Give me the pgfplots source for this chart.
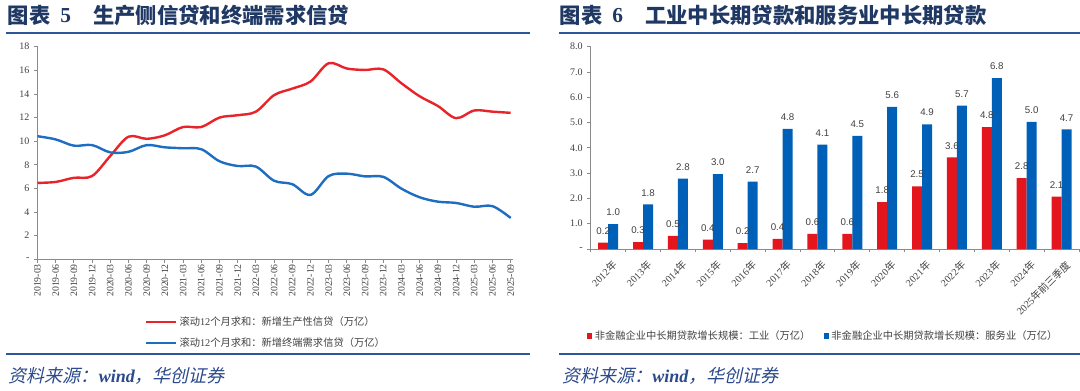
\documentclass[border=0pt]{standalone}
\usepackage{fontspec}
\setmainfont{Liberation Serif}
\newfontfamily\cjk{Noto Sans CJK SC}
\newfontfamily\cjkit{Noto Sans CJK SC}[FakeSlant=0.22]
\newfontfamily\arial{Liberation Sans}
\usepackage{pgfplots}
\pgfplotsset{compat=1.18}

\definecolor{tnavy}{HTML}{1F3864}
\definecolor{srcc}{HTML}{2B4A8B}
\definecolor{rulec}{HTML}{2E5597}
\definecolor{lred}{HTML}{E8232A}
\definecolor{lblue}{HTML}{1D6DC1}
\definecolor{bred}{HTML}{E3161E}
\definecolor{bblue}{HTML}{0060B7}
\definecolor{axc}{HTML}{8A8A8A}
\definecolor{txt}{HTML}{404040}
\newcommand\nian{{\cjk 年}}

\begin{document}
\begin{tikzpicture}
\useasboundingbox (0,0) rectangle (810pt,-293.25pt);

% ---------------- left chart ----------------
\begin{axis}[
  at={(28.125pt,-194.475pt)}, anchor=south west,
  scale only axis, width=356.25pt, height=159.45pt,
  xmin=0, xmax=26.1, ymin=0, ymax=18,
  axis x line*=bottom, axis y line*=left,
  axis line style={-, axc, line width=0.6pt},
  tick style={axc, line width=0.6pt},
  tick align=outside, major tick length=2.5pt,
  xtick={0,...,26},
  xticklabels={2019-03,2019-06,2019-09,2019-12,2020-03,2020-06,2020-09,2020-12,2021-03,2021-06,2021-09,2021-12,2022-03,2022-06,2022-09,2022-12,2023-03,2023-06,2023-09,2023-12,2024-03,2024-06,2024-09,2024-12,2025-03,2025-06,2025-09},
  ytick={0,2,...,18},
  yticklabels={-,2,4,6,8,10,12,14,16,18},
  x tick label style={rotate=90, anchor=east, font=\fontsize{7.3}{8}\selectfont, text=txt, inner sep=1pt},
  y tick label style={font=\fontsize{7.5}{8}\selectfont, text=txt},
  legend style={at={(axis description cs:0.226,-0.255)}, anchor=north west, draw=none, fill=none,
    font=\fontsize{7.7}{9}\selectfont, text=txt, inner sep=0pt, row sep=4pt},
  legend cell align=left,
  legend image code/.code={\draw[#1] (0pt,0pt) -- (22pt,0pt);},
]
\addplot[lred, line width=1.8pt, smooth, tension=0.55] coordinates {
(0,6.47)(1,6.55)(2,6.90)(3,7.05)(4,8.75)(5,10.38)(6,10.2)(7,10.5)(8,11.2)(9,11.2)
(10,12.0)(11,12.2)(12,12.5)(13,13.9)(14,14.45)(15,15.05)(16,16.6)(17,16.15)(18,16.03)
(19,16.08)(20,14.9)(21,13.8)(22,12.98)(23,11.95)(24,12.6)(25,12.5)(26,12.4)};
\addlegendentry{\cjk 滚动{\rmfamily 12}个月求和：新增生产性信贷（万亿）}
\addplot[lblue, line width=1.8pt, smooth, tension=0.55] coordinates {
(0,10.42)(1,10.15)(2,9.62)(3,9.67)(4,9.05)(5,9.1)(6,9.67)(7,9.48)(8,9.4)(9,9.32)
(10,8.3)(11,7.9)(12,7.85)(13,6.65)(14,6.36)(15,5.45)(16,7.05)(17,7.25)(18,7.02)
(19,6.98)(20,5.98)(21,5.25)(22,4.88)(23,4.77)(24,4.45)(25,4.5)(26,3.5)};
\addlegendentry{\cjk 滚动{\rmfamily 12}个月求和：新增终端需求信贷（万亿）}
\end{axis}

% ---------------- right chart ----------------
\begin{axis}[
  at={(443.025pt,-186.75pt)}, anchor=south west,
  scale only axis, width=366.225pt, height=151.725pt,
  xmin=-0.5, xmax=13.5, ymin=0, ymax=8,
  ybar=0pt, bar width=7.5pt,
  axis x line*=bottom, axis y line*=left,
  axis line style={-, axc, line width=0.6pt},
  tick style={axc, line width=0.6pt},
  tick align=outside, major tick length=2.5pt, minor tick length=2.5pt,
  xtick={0,...,13},
  major x tick style={draw=none},
  minor xtick={-0.5,0.5,...,13.5},
  xticklabels={2012\nian,2013\nian,2014\nian,2015\nian,2016\nian,2017\nian,2018\nian,2019\nian,2020\nian,2021\nian,2022\nian,2023\nian,2024\nian,{2025{\cjk 年前三季度}}},
  ytick={0,1,...,8},
  yticklabels={-,1.0,2.0,3.0,4.0,5.0,6.0,7.0,8.0},
  x tick label style={rotate=45, anchor=north east, font=\fontsize{7.6}{8}\selectfont, text=txt, inner sep=1pt, yshift=-4.5pt, xshift=-1pt},
  y tick label style={font=\fontsize{7.5}{8}\selectfont, text=txt},
  nodes near coords, point meta=explicit symbolic,
  nodes near coords style={font=\arial\fontsize{7.3}{8}\selectfont, text=txt, anchor=south, inner sep=1pt, yshift=5pt},
  legend columns=2,
  legend style={at={(axis description cs:-0.008,-0.43)}, anchor=west, draw=none, fill=none,
    font=\cjk\fontsize{7.7}{9}\selectfont, text=txt, inner sep=0pt,
    /tikz/every even column/.append style={column sep=8pt}},
  legend image code/.code={\fill[#1] (0pt,-1.9pt) rectangle (3.8pt,1.9pt);},
]
\addplot[fill=bred, draw=none] coordinates {
(0,0.25)[0.2] (1,0.27)[0.3] (2,0.52)[0.5] (3,0.37)[0.4] (4,0.23)[0.2] (5,0.40)[0.4] (6,0.60)[0.6]
(7,0.60)[0.6] (8,1.85)[1.8] (9,2.48)[2.5] (10,3.62)[3.6] (11,4.82)[4.8] (12,2.80)[2.8] (13,2.07)[2.1]};
\addlegendentry{非金融企业中长期贷款增长规模：工业（万亿）}
\addplot[fill=bblue, draw=none] coordinates {
(0,0.98)[1.0] (1,1.76)[1.8] (2,2.78)[2.8] (3,2.96)[3.0] (4,2.66)[2.7] (5,4.75)[4.8] (6,4.13)[4.1]
(7,4.47)[4.5] (8,5.62)[5.6] (9,4.93)[4.9] (10,5.67)[5.7] (11,6.76)[6.8] (12,5.03)[5.0] (13,4.73)[4.7]};
\addlegendentry{非金融企业中长期贷款增长规模：服务业（万亿）}
\end{axis}

% ---------------- frame texts ----------------
\begin{scope}[x=0.75pt, y=-0.75pt]
\draw[rulec, line width=1.5pt] (6,32.7) -- (530,32.7);
\draw[rulec, line width=1.5pt] (559,32.7) -- (1080,32.7);
\draw[rulec, line width=1.5pt] (6,354) -- (530,354);
\draw[rulec, line width=1.5pt] (559,354) -- (1080,354);

\node[anchor=west, inner sep=0pt, text=tnavy, font=\cjk\bfseries\fontsize{16}{17}\selectfont] at (7.6,15.3) {图表};
\node[anchor=west, inner sep=0pt, text=tnavy, font=\bfseries\fontsize{16}{17}\selectfont] at (60,15.3) {5};
\node[anchor=west, inner sep=0pt, text=tnavy, font=\cjk\bfseries\fontsize{16}{17}\selectfont] at (93,15.3) {生产侧信贷和终端需求信贷};

\node[anchor=west, inner sep=0pt, text=tnavy, font=\cjk\bfseries\fontsize{16}{17}\selectfont] at (559.5,15.3) {图表};
\node[anchor=west, inner sep=0pt, text=tnavy, font=\bfseries\fontsize{16}{17}\selectfont] at (612,15.3) {6};
\node[anchor=west, inner sep=0pt, text=tnavy, font=\cjk\bfseries\fontsize{16}{17}\selectfont] at (645,15.3) {工业中长期贷款和服务业中长期贷款};

\node[anchor=west, inner sep=0pt, text=srcc, font=\fontsize{13.5}{14}\selectfont] at (8.6,376) {\cjkit 资料来源：{\rmfamily\bfseries\itshape wind}\cjkit，华创证券};
\node[anchor=west, inner sep=0pt, text=srcc, font=\fontsize{13.5}{14}\selectfont] at (562,376) {\cjkit 资料来源：{\rmfamily\bfseries\itshape wind}\cjkit，华创证券};
\end{scope}
\end{tikzpicture}
\end{document}
